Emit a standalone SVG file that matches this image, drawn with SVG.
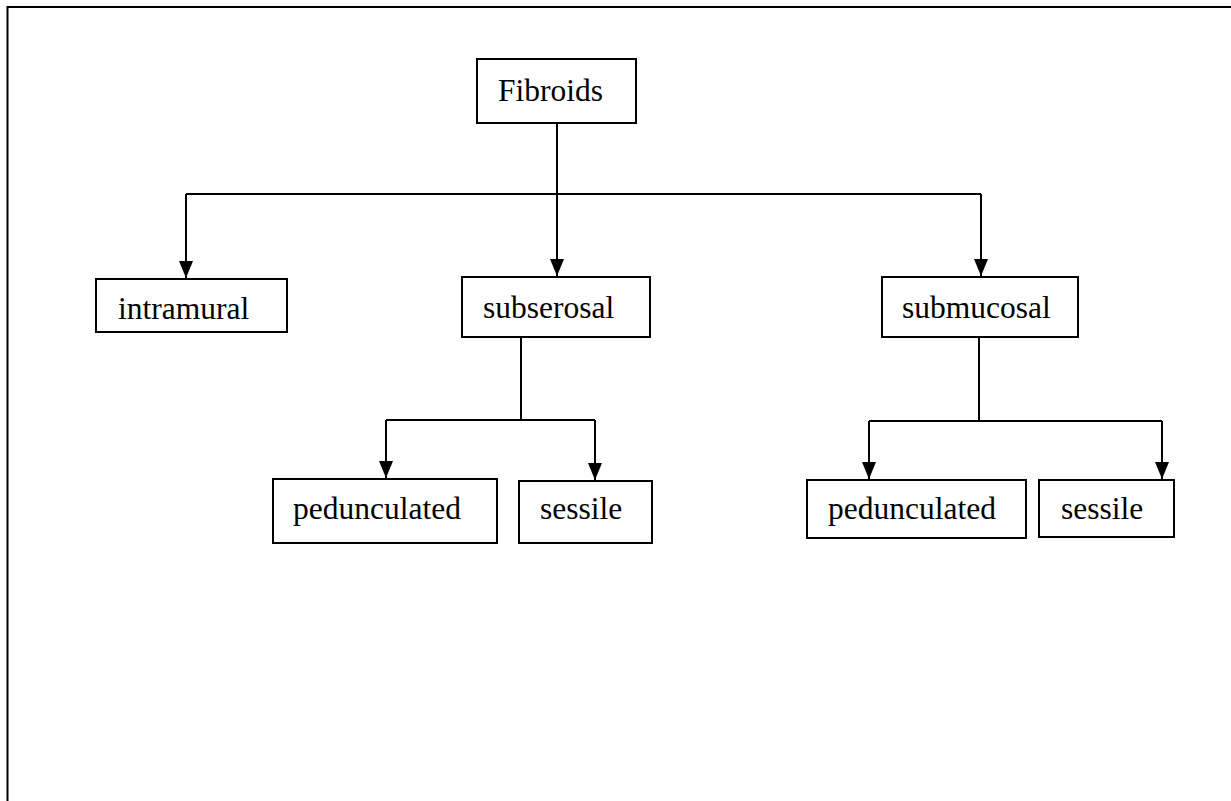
<svg xmlns="http://www.w3.org/2000/svg" width="1231" height="801" viewBox="0 0 1231 801">
<style>
.box{fill:#fff;stroke:#000;stroke-width:2}
.lbl{font-family:"Liberation Serif","Times New Roman",serif;font-size:31.5px;fill:#000}
.wire{fill:none;stroke:#000;stroke-width:2}
</style>
<defs>
<marker id="ah" viewBox="0 0 17 14" refX="17" refY="7" markerWidth="17" markerHeight="14" markerUnits="userSpaceOnUse" orient="auto">
<path d="M0,0 L17,7 L0,14 Z" fill="#000"/>
</marker>
</defs>
<rect width="1231" height="801" fill="#fff"/>
<g id="frame">
<path d="M1231,7 H7.5 V801" fill="none" stroke="#000" stroke-width="2"/>
</g>
<g id="connectors">
<path class="wire" d="M557,123 V194"/>
<path class="wire" d="M186,194 H981"/>
<path class="wire" d="M186,194 V278" marker-end="url(#ah)"/>
<path class="wire" d="M557,194 V276" marker-end="url(#ah)"/>
<path class="wire" d="M981,194 V276" marker-end="url(#ah)"/>
<path class="wire" d="M521,337 V421"/>
<path class="wire" d="M386,420 H595"/>
<path class="wire" d="M386,420 V478" marker-end="url(#ah)"/>
<path class="wire" d="M595,420 V480" marker-end="url(#ah)"/>
<path class="wire" d="M979,337 V421"/>
<path class="wire" d="M869,421 H1162"/>
<path class="wire" d="M869,421 V479" marker-end="url(#ah)"/>
<path class="wire" d="M1162,421 V479" marker-end="url(#ah)"/>
</g>
<g id="node-fibroids">
<rect class="box" x="477" y="59" width="159" height="64"/>
<text class="lbl" x="498" y="101">Fibroids</text>
</g>
<g id="node-intramural">
<rect class="box" x="96" y="279" width="191" height="53"/>
<text class="lbl" x="118" y="319">intramural</text>
</g>
<g id="node-subserosal">
<rect class="box" x="462" y="277" width="188" height="60"/>
<text class="lbl" x="483" y="318">subserosal</text>
</g>
<g id="node-submucosal">
<rect class="box" x="882" y="277" width="196" height="60"/>
<text class="lbl" x="902" y="318">submucosal</text>
</g>
<g id="node-pedunculated-1">
<rect class="box" x="273" y="479" width="224" height="64"/>
<text class="lbl" x="293" y="519">pedunculated</text>
</g>
<g id="node-sessile-1">
<rect class="box" x="519" y="481" width="133" height="62"/>
<text class="lbl" x="540" y="519">sessile</text>
</g>
<g id="node-pedunculated-2">
<rect class="box" x="807" y="480" width="219" height="58"/>
<text class="lbl" x="828" y="519">pedunculated</text>
</g>
<g id="node-sessile-2">
<rect class="box" x="1039" y="480" width="135" height="57"/>
<text class="lbl" x="1061" y="519">sessile</text>
</g>
</svg>
